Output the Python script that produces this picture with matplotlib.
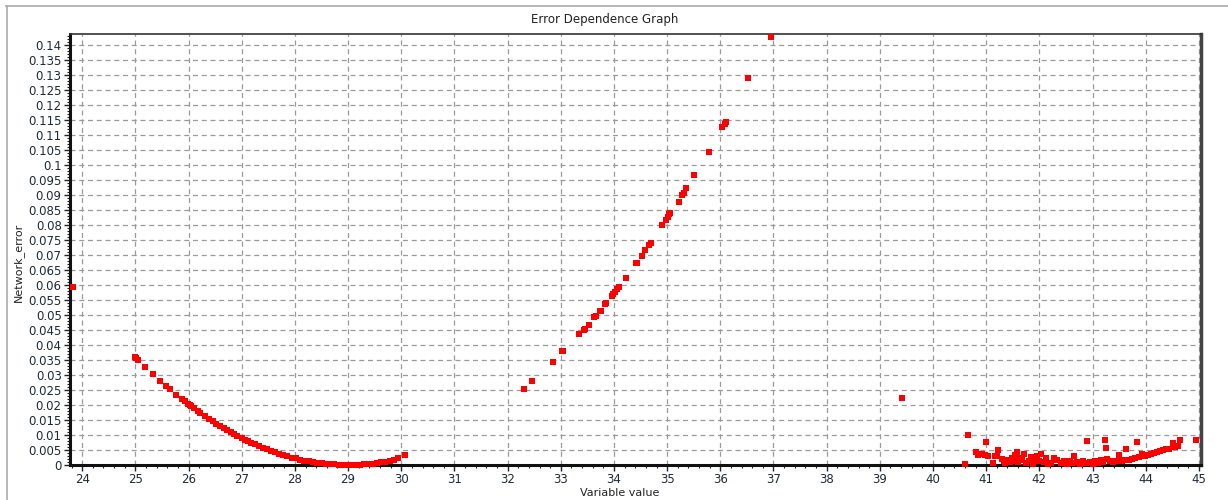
import matplotlib
matplotlib.use("Agg")
import matplotlib.pyplot as plt
from matplotlib.ticker import MultipleLocator, FuncFormatter
from matplotlib.lines import Line2D

# ---- data ----
outlier_x = [23.83, 39.41]
outlier_y = [0.0595, 0.0223]

left_x = [25.00, 25.02, 25.05, 25.18, 25.33, 25.47, 25.58, 25.65, 25.77, 25.88,
          25.93, 25.98, 26.02, 26.05, 26.10, 26.18, 26.22, 26.30, 26.38, 26.45,
          26.52, 26.60, 26.66, 26.72, 26.80, 26.86, 26.92, 27.00, 27.06, 27.12,
          27.18, 27.25, 27.32, 27.40, 27.48, 27.55, 27.62, 27.70, 27.78, 27.86,
          27.94, 28.02, 28.10, 28.18, 28.26, 28.34, 28.42, 28.50, 28.58, 28.66,
          28.74, 28.82, 28.90, 28.98, 29.06, 29.14, 29.22, 29.30, 29.38, 29.46,
          29.54, 29.62, 29.70, 29.78, 29.86, 29.94, 30.07]
left_y = [0.0360, 0.0356, 0.0351, 0.0328, 0.0303, 0.0280, 0.0263, 0.0253, 0.0235, 0.0219,
          0.0212, 0.0205, 0.0200, 0.0196, 0.0189, 0.0179, 0.0174, 0.0164, 0.0154, 0.0146,
          0.0138, 0.0130, 0.0123, 0.0117, 0.0109, 0.0103, 0.0097, 0.0090, 0.0085, 0.0080,
          0.0075, 0.0069, 0.0064, 0.0058, 0.0052, 0.0047, 0.0043, 0.0038, 0.0033, 0.0029,
          0.0025, 0.0022, 0.0018, 0.0015, 0.0012, 0.0010, 0.0008, 0.0006, 0.0004, 0.0003,
          0.0002, 0.0001, 0.0000, 0.0000, 0.0000, 0.0000, 0.0001, 0.0002, 0.0003, 0.0005,
          0.0007, 0.0009, 0.0011, 0.0014, 0.0017, 0.0025, 0.0033]

mid_x = [32.30, 32.46, 32.85, 33.03, 33.05, 33.35, 33.43, 33.46, 33.53, 33.63,
         33.66, 33.73, 33.76, 33.83, 33.85, 33.96, 33.99, 34.02, 34.05, 34.09,
         34.22, 34.42, 34.44, 34.52, 34.59, 34.65, 34.70, 34.91, 34.98, 35.01,
         35.04, 35.06, 35.22, 35.28, 35.31, 35.36, 35.51, 35.78, 36.04, 36.09,
         36.11, 36.53, 36.95]
mid_y = [0.0255, 0.0281, 0.0345, 0.0379, 0.0381, 0.0436, 0.0450, 0.0453, 0.0467, 0.0495,
         0.0497, 0.0514, 0.0515, 0.0537, 0.0540, 0.0562, 0.0570, 0.0578, 0.0586, 0.0595,
         0.0623, 0.0673, 0.0675, 0.0697, 0.0716, 0.0732, 0.0739, 0.0801, 0.0818, 0.0827,
         0.0836, 0.0840, 0.0877, 0.0900, 0.0908, 0.0925, 0.0966, 0.1044, 0.1127, 0.1138,
         0.1144, 0.1291, 0.1428]

right_x = [40.60, 40.65, 40.80, 40.84, 40.88, 40.93, 40.98, 40.99, 41.03, 41.12,
           41.16, 41.20, 41.23, 41.30, 41.33, 41.36, 41.40, 41.44, 41.48, 41.52,
           41.55, 41.58, 41.60, 41.64, 41.68, 41.72, 41.75, 41.80, 41.85, 41.88,
           41.92, 41.96, 42.00, 42.04, 42.08, 42.12, 42.16, 42.22, 42.28, 42.34,
           42.40, 42.46, 42.52, 42.58, 42.62, 42.65, 42.70, 42.76, 42.82, 42.88,
           42.90, 42.95, 43.00, 43.05, 43.10, 43.16, 43.20, 43.23, 43.25, 43.28,
           43.32, 43.38, 43.44, 43.50, 43.55, 43.60, 43.63, 43.68, 43.74, 43.80,
           43.83, 43.88, 43.93, 43.98, 44.04, 44.10, 44.16, 44.22, 44.26, 44.32,
           44.38, 44.44, 44.52, 44.56, 44.61, 44.64, 44.94]
right_y = [0.0004, 0.0099, 0.0043, 0.0035, 0.0038, 0.0036, 0.0033, 0.0076, 0.0030, 0.0008,
           0.0030, 0.0031, 0.0050, 0.0020, 0.0012, 0.0008, 0.0018, 0.0010, 0.0025, 0.0015,
           0.0035, 0.0042, 0.0010, 0.0022, 0.0018, 0.0038, 0.0008, 0.0012, 0.0028, 0.0005,
           0.0020, 0.0030, 0.0015, 0.0038, 0.0010, 0.0022, 0.0004, 0.0008, 0.0025, 0.0018,
           0.0006, 0.0012, 0.0003, 0.0015, 0.0008, 0.0030, 0.0010, 0.0004, 0.0012, 0.0006,
           0.0079, 0.0010, 0.0004, 0.0014, 0.0008, 0.0018, 0.0011, 0.0082, 0.0057, 0.0020,
           0.0014, 0.0009, 0.0012, 0.0034, 0.0014, 0.0016, 0.0052, 0.0018, 0.0020, 0.0023,
           0.0076, 0.0027, 0.0036, 0.0030, 0.0032, 0.0036, 0.0040, 0.0045, 0.0048, 0.0050,
           0.0053, 0.0055, 0.0073, 0.0060, 0.0062, 0.0082, 0.0085]

title = "Error Dependence Graph"
xlabel = "Variable value"
ylabel = "Network_error"

# ---- figure ----
plt.rcParams['font.family'] = ['DejaVu Sans']
fig = plt.figure(figsize=(12.28, 5.0), dpi=100)
ax = fig.add_axes([70/1228, 1-465/500, (1201-70)/1228, (465-34)/500])

mk = dict(marker='s', linestyle='none', color='#ff0000', markersize=4.6,
          markeredgewidth=0, zorder=3, clip_on=False)
for xs, ys in [(outlier_x, outlier_y), (left_x, left_y), (mid_x, mid_y), (right_x, right_y)]:
    ax.plot(xs, ys, **mk)

ax.set_xlim(23.77, 45.04)
ax.set_ylim(0, 0.1437)
ax.xaxis.set_major_locator(MultipleLocator(1))
ax.xaxis.set_minor_locator(MultipleLocator(0.2))
ax.yaxis.set_major_locator(MultipleLocator(0.005))
ax.yaxis.set_minor_locator(MultipleLocator(0.001))
ax.yaxis.set_major_formatter(FuncFormatter(lambda v, p: f"{round(v, 3):g}"))
ax.xaxis.set_major_formatter(FuncFormatter(lambda v, p: f"{int(round(v))}"))

ax.grid(True, which='major', color='#9a9a9a', linestyle=(0, (4, 3)), linewidth=0.9)
ax.set_axisbelow(True)

ax.tick_params(axis='both', which='major', direction='out', length=4, width=1,
               labelsize=8.5, colors='#222222', pad=2)
ax.tick_params(axis='both', which='minor', direction='out', length=2, width=0.8, colors='#222222')
ax.tick_params(axis='y', labelcolor='#1e2a3a')
ax.tick_params(axis='x', labelcolor='#1e2a3a', pad=1.5)

ax.spines['left'].set_linewidth(2.2)
ax.spines['left'].set_color('#111111')
ax.spines['bottom'].set_linewidth(2.2)
ax.spines['bottom'].set_color('#111111')
ax.spines['top'].set_linewidth(1.2)
ax.spines['top'].set_color('#333333')
ax.spines['right'].set_linewidth(2.5)
ax.spines['right'].set_color('#444444')

fig.text(605/1228, 1-20/500, title, ha='center', va='center', fontsize=8.5, color='#222222')
fig.text(620/1228, 1-493/500, xlabel, ha='center', va='center', fontsize=8, color='#222222')
fig.text(18/1228, 1-262/500, ylabel, ha='center', va='center', rotation=90, fontsize=8, color='#222222')

# window frame lines
fig.add_artist(Line2D([6/1228, 1.0], [1-6/500, 1-6/500], color='#aaaaaa', linewidth=1.2))
fig.add_artist(Line2D([7/1228, 7/1228], [0, 1-6/500], color='#aaaaaa', linewidth=1.2))

fig.savefig("out.png", dpi=100, facecolor='white')
